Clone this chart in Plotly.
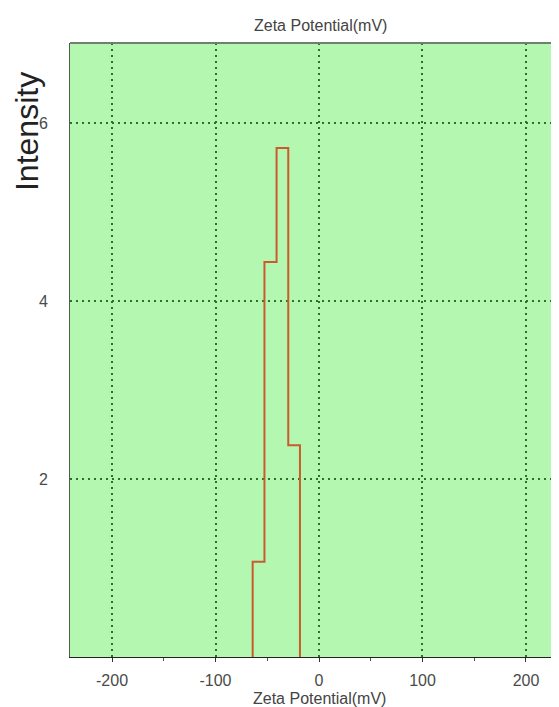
import plotly.graph_objects as go

# bin edges (mV) and intensity per bin
bin_edges = [-64.1, -52.7, -41.0, -29.7, -18.4]
intensity = [1.07, 4.44, 5.72, 2.38]

x_ticks = [-200, -100, 0, 100, 200]
x_tick_labels = ["-200", "-100", "0", "100", "200"]
y_ticks = [2, 4, 6]
y_tick_labels = ["2", "4", "6"]

xs = [bin_edges[0]] + bin_edges
ys = [0] + intensity + [0]

fig = go.Figure()
fig.add_trace(go.Scatter(
    x=xs, y=ys, mode="lines", line_shape="hv",
    line=dict(color="#cc5a2c", width=2), showlegend=False, hoverinfo="skip",
))

grid = dict(showgrid=True, gridcolor="#2e6e2e", gridwidth=2, griddash="2px,4px")
fig.update_layout(
    width=551, height=699,
    margin=dict(l=62, r=0, t=35, b=50),
    paper_bgcolor="white", plot_bgcolor="#b3f7b1",
    font=dict(family="Liberation Sans, Arial, sans-serif", color="#4a4a4a", size=16),
    xaxis=dict(range=[-240.6, 231.9], tickvals=x_ticks, ticktext=x_tick_labels,
               ticks="outside", ticklen=4, tickcolor="#333", zeroline=False,
               showline=True, linecolor="#222", linewidth=1, ticklabelstandoff=5,
               minor=dict(dtick=50, tick0=-250, ticks="outside", ticklen=3, tickcolor="#555", showgrid=False),
               **grid),
    yaxis=dict(range=[0, 6.9], tickvals=y_ticks, ticktext=y_tick_labels,
               ticks="", zeroline=False, showline=True, linecolor="#4f5f4f", linewidth=1,
               ticklabelstandoff=18, **grid),
)
# top border
fig.add_shape(type="line", xref="paper", yref="paper", x0=0, x1=1, y0=1, y1=1,
              line=dict(color="#6f806f", width=2))
fig.add_annotation(text="Intensity", xref="paper", yref="paper", x=0, y=0.855,
                   xshift=-43, textangle=-90, showarrow=False,
                   font=dict(size=32, color="#222"), xanchor="center", yanchor="middle")
fig.add_annotation(text="Zeta Potential(mV)", xref="paper", yref="paper", x=0.5, y=1,
                   xshift=6, yshift=18, showarrow=False,
                   font=dict(size=16, color="#444"), xanchor="center", yanchor="middle")
fig.add_annotation(text="Zeta Potential(mV)", xref="paper", yref="paper", x=0.5, y=0,
                   xshift=5, yshift=-41, showarrow=False,
                   font=dict(size=16, color="#444"), xanchor="center", yanchor="middle")

fig.write_html("out.html")
